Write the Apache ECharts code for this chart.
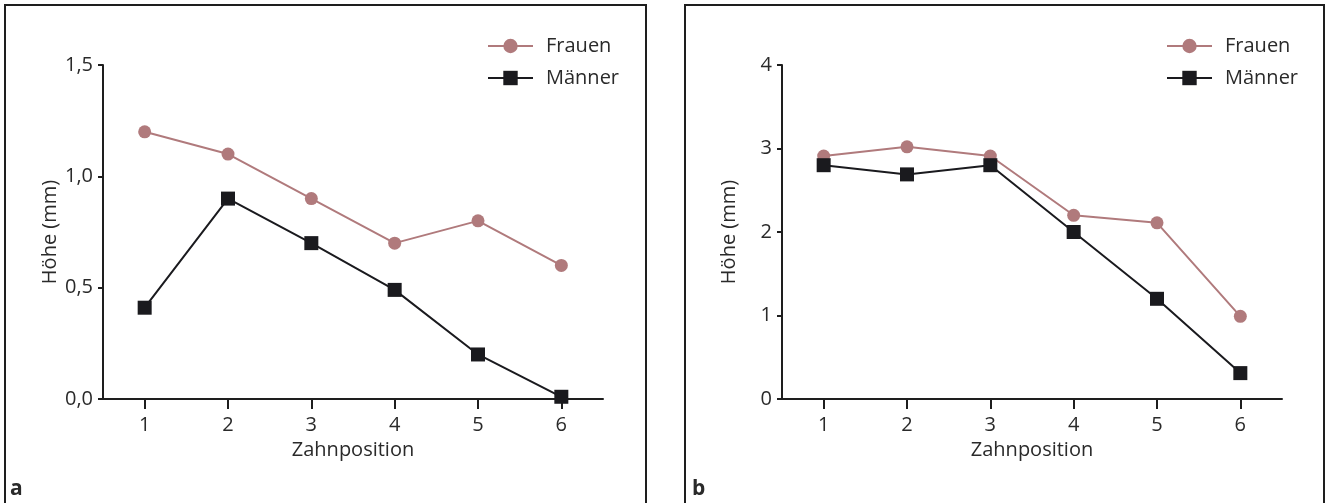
<!DOCTYPE html>
<html>
<head>
<meta charset="utf-8">
<script src="https://cdn.jsdelivr.net/npm/echarts@6/dist/echarts.min.js"></script>
<style>
  html, body { margin: 0; padding: 0; background: #ffffff; }
  #chart { width: 1328px; height: 503px; }
</style>
</head>
<body>
<div id="chart"></div>
<script>
// ---- data ----
const positions = [1, 2, 3, 4, 5, 6];
const frauenA = [1.2, 1.1, 0.9, 0.7, 0.8, 0.6];
const maennerA = [0.41, 0.9, 0.7, 0.49, 0.2, 0.01];
const frauenB = [2.91, 3.02, 2.91, 2.2, 2.11, 0.99];
const maennerB = [2.8, 2.69, 2.8, 2.0, 1.2, 0.31];
const yTicksA = [0, 0.5, 1.0, 1.5];
const yTicksB = [0, 1, 2, 3, 4];
const seriesNames = ['Frauen', 'Männer'];
const xName = 'Zahnposition';
const yName = 'Höhe (mm)';
const panelLabels = ['a', 'b'];

const FONT = '"Open Sans", Lato, sans-serif';
const FS = 20;
const TXT = '#2a2a2a';
const AX = '#1e1e1e';
const PINK = '#b07a7c';
const DARK = '#1a1a1e';

const pair = (xs, ys) => xs.map((x, i) => [x, ys[i]]);

function xAxis(gi) {
  return {
    type: 'value', gridIndex: gi, min: 0.5, max: 6.5,
    name: xName, nameLocation: 'middle', nameGap: 40,
    nameTextStyle: { fontFamily: FONT, fontSize: FS, color: TXT },
    axisLine: { show: true, lineStyle: { color: AX, width: 2 } },
    axisTick: { show: true, length: 10, lineStyle: { color: AX, width: 2 }, customValues: positions },
    axisLabel: { fontFamily: FONT, fontSize: FS, color: TXT, margin: 16, customValues: positions },
    splitLine: { show: false }
  };
}
function yAxis(gi, ticks, fmt) {
  return {
    type: 'value', gridIndex: gi, min: ticks[0], max: ticks[ticks.length - 1],
    interval: ticks[1] - ticks[0],
    name: yName, nameLocation: 'middle', nameGap: 43,
    nameTextStyle: { fontFamily: FONT, fontSize: FS, color: TXT },
    axisLine: { show: true, lineStyle: { color: AX, width: 2 } },
    axisTick: { show: true, length: 5, lineStyle: { color: AX, width: 2 } },
    axisLabel: { fontFamily: FONT, fontSize: FS, color: TXT, margin: 10, formatter: fmt },
    splitLine: { show: false }
  };
}
function legend(left) {
  return {
    orient: 'vertical', left: left, top: 36, padding: 0,
    itemWidth: 45, itemHeight: 18, itemGap: 12,
    data: seriesNames,
    textStyle: { fontFamily: FONT, fontSize: FS, lineHeight: 20, color: TXT, padding: [0, 0, 0, 8] }
  };
}
function lineSeries(name, gi, ys, color, symbol, size) {
  return {
    type: 'line', name: name, xAxisIndex: gi, yAxisIndex: gi,
    data: pair(positions, ys), symbol: symbol, symbolSize: size,
    lineStyle: { color: color, width: 2 },
    itemStyle: { color: color },
    animation: false
  };
}

const chart = echarts.init(document.getElementById('chart'));
chart.setOption({
  animation: false,
  grid: [
    { left: 103, top: 65, width: 500, height: 334 },
    { left: 782, top: 65, width: 500, height: 334 }
  ],
  xAxis: [xAxis(0), xAxis(1)],
  yAxis: [
    yAxis(0, yTicksA, v => v.toFixed(1).replace('.', ',')),
    yAxis(1, yTicksB, v => String(v))
  ],
  legend: [legend(487), legend(1166)],
  series: [
    lineSeries(seriesNames[0], 0, frauenA, PINK, 'circle', 13),
    lineSeries(seriesNames[1], 0, maennerA, DARK, 'rect', 14),
    lineSeries(seriesNames[0], 1, frauenB, PINK, 'circle', 13),
    lineSeries(seriesNames[1], 1, maennerB, DARK, 'rect', 14)
  ],
  graphic: [
    { type: 'polyline', silent: true, shape: { points: [[5, 520], [5, 5], [646, 5], [646, 520]] },
      style: { stroke: AX, lineWidth: 2, fill: null } },
    { type: 'polyline', silent: true, shape: { points: [[685, 520], [685, 5], [1324, 5], [1324, 520]] },
      style: { stroke: AX, lineWidth: 2, fill: null } },
    { type: 'text', left: 10, top: 479, style: { text: panelLabels[0], fontFamily: FONT, fontSize: 21, fontWeight: 'bold', fill: TXT } },
    { type: 'text', left: 692, top: 479, style: { text: panelLabels[1], fontFamily: FONT, fontSize: 21, fontWeight: 'bold', fill: TXT } }
  ]
});
</script>
</body>
</html>
